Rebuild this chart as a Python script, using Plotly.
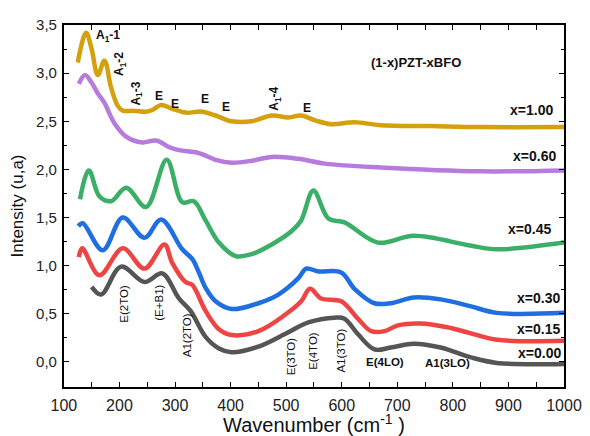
import plotly.graph_objects as go

# Raman spectra of (1-x)PZT-xBFO
wn_100 = [125, 140, 150, 161, 173, 185, 197, 206, 225, 248, 260, 275, 295, 319, 349, 373, 402, 438, 474, 504, 527, 552, 581, 623, 670, 760, 850, 1000]
int_100 = [3.11, 3.42, 3.25, 2.98, 3.13, 2.85, 2.66, 2.61, 2.61, 2.60, 2.62, 2.67, 2.63, 2.59, 2.60, 2.56, 2.50, 2.50, 2.56, 2.54, 2.56, 2.51, 2.47, 2.49, 2.46, 2.45, 2.44, 2.44]

wn_060 = [127, 138, 150, 161, 173, 191, 212, 241, 266, 290, 307, 343, 373, 402, 438, 474, 522, 570, 670, 849, 1000]
int_060 = [2.89, 2.98, 2.90, 2.79, 2.69, 2.48, 2.34, 2.28, 2.30, 2.23, 2.20, 2.17, 2.10, 2.07, 2.09, 2.13, 2.11, 2.06, 2.02, 1.98, 1.99]

wn_045 = [129, 145, 164, 185, 212, 248, 285, 313, 334, 355, 379, 409, 438, 474, 510, 527, 549, 576, 605, 665, 730, 831, 879, 1000]
int_045 = [1.69, 1.99, 1.72, 1.67, 1.81, 1.61, 2.10, 1.66, 1.67, 1.47, 1.24, 1.10, 1.12, 1.22, 1.36, 1.47, 1.78, 1.49, 1.45, 1.24, 1.31, 1.21, 1.17, 1.24]

wn_030 = [126, 134, 170, 206, 245, 275, 313, 331, 343, 355, 373, 402, 450, 486, 522, 536, 558, 599, 623, 659, 688, 730, 778, 831, 879, 1000]
int_030 = [1.41, 1.44, 1.16, 1.50, 1.29, 1.48, 1.17, 1.07, 0.93, 0.77, 0.63, 0.55, 0.61, 0.70, 0.87, 0.97, 0.94, 0.93, 0.76, 0.61, 0.61, 0.67, 0.65, 0.58, 0.51, 0.51]

wn_015 = [127, 133, 164, 206, 245, 281, 295, 319, 331, 355, 379, 402, 450, 498, 527, 543, 563, 599, 629, 653, 677, 701, 742, 790, 831, 879, 1000]
int_015 = [1.09, 1.18, 0.90, 1.18, 0.97, 1.22, 1.03, 0.83, 0.80, 0.53, 0.34, 0.28, 0.32, 0.49, 0.63, 0.76, 0.66, 0.63, 0.45, 0.32, 0.32, 0.38, 0.40, 0.36, 0.30, 0.23, 0.22]

wn_000 = [150, 167, 203, 245, 277, 307, 328, 355, 379, 402, 450, 498, 540, 587, 605, 629, 659, 688, 730, 778, 831, 879, 1000]
int_000 = [0.78, 0.70, 0.99, 0.83, 0.92, 0.66, 0.53, 0.26, 0.14, 0.10, 0.16, 0.29, 0.41, 0.46, 0.45, 0.29, 0.13, 0.15, 0.19, 0.15, 0.05, -0.01, -0.02]

series = [
    ("x=0.00", wn_000, int_000, "#555555"),
    ("x=0.15", wn_015, int_015, "#EE4444"),
    ("x=0.30", wn_030, int_030, "#1F6FE0"),
    ("x=0.45", wn_045, int_045, "#3BAF68"),
    ("x=0.60", wn_060, int_060, "#B67BDD"),
    ("x=1.00", wn_100, int_100, "#D4A00C"),
]

# curve labels at right edge: (text, x, y)
curve_labels = [
    ("x=1.00", 983, 2.62),
    ("x=0.60", 990, 2.14),
    ("x=0.45", 981, 1.38),
    ("x=0.30", 996, 0.66),
    ("x=0.15", 996, 0.34),
    ("x=0.00", 999, 0.09),
]

# mode labels on the x=1.00 curve: (text, x, y, angle)
top_modes = [
    ("A<sub>1</sub>-1", 179, 3.39, 0),
    ("A<sub>1</sub>-2", 202, 3.09, -90),
    ("A<sub>1</sub>-3", 232, 2.79, -90),
    ("E", 272, 2.76, 0),
    ("E", 300, 2.68, 0),
    ("E", 354, 2.73, 0),
    ("E", 391, 2.65, 0),
    ("A<sub>1</sub>-4", 481, 2.73, -90),
    ("E", 538, 2.64, 0),
]

# mode labels on the x=0.00 curve: (text, x, y, angle, bold)
bottom_modes = [
    ("E(2TO)", 209, 0.61, -90, False),
    ("(E+B1)", 272, 0.62, -90, False),
    ("A1(2TO)", 322, 0.28, -90, False),
    ("E(3TO)", 509, 0.06, -90, False),
    ("E(4TO)", 549, 0.12, -90, False),
    ("A1(3TO)", 599, 0.12, -90, False),
    ("E(4LO)", 677, 0.0, 0, True),
    ("A1(3LO)", 790, -0.01, 0, True),
]

x_ticks = list(range(100, 1001, 100))
y_ticks = [0, 0.5, 1.0, 1.5, 2.0, 2.5, 3.0, 3.5]
y_ticktext = ["0,0", "0,5", "1,0", "1,5", "2,0", "2,5", "3,0", "3,5"]

FONT = "Liberation Sans, Arial, sans-serif"

fig = go.Figure()
for name, x, y, color in series:
    fig.add_trace(go.Scatter(x=x, y=y, mode="lines", name=name,
                             line=dict(color=color, width=4.5, shape="spline", smoothing=1.0)))

ann = []
for text, x, y in curve_labels:
    ann.append(dict(x=x, y=y, text=f"<b>{text}</b>", showarrow=False, xanchor="right",
                    font=dict(size=14, color="#111")))
for text, x, y, a in top_modes:
    ann.append(dict(x=x, y=y, text=f"<b>{text}</b>", showarrow=False, textangle=a,
                    font=dict(size=12, color="#111")))
for text, x, y, a, b in bottom_modes:
    ann.append(dict(x=x, y=y, text=f"<b>{text}</b>" if b else text, showarrow=False,
                    textangle=a, font=dict(size=11.5, color="#111")))
ann.append(dict(x=733, y=3.11, text="<b>(1-x)PZT-xBFO</b>", showarrow=False,
                font=dict(size=13, color="#111")))

frame = dict(showline=True, linecolor="black", linewidth=1.5, mirror="allticks",
             ticks="inside", ticklen=5, tickwidth=1.2, tickcolor="black",
             showgrid=False, zeroline=False)

# page body has an 8px margin, so the figure is shrunk by that amount.
# plot area runs 40..560 px of the figure; x domain starts 16 px in so the
# label-only y axis can sit just left of the frame.
fig.update_layout(
    width=582, height=428,
    margin=dict(l=40, r=22, t=8, b=48),
    paper_bgcolor="white", plot_bgcolor="white",
    font=dict(family=FONT, color="#111"),
    showlegend=False,
    annotations=ann,
    xaxis=dict(range=[100, 1000], domain=[16 / 520, 1], tickvals=x_ticks, ticklabelstandoff=3,
               tickfont=dict(size=16, color="#222"),
               title=dict(text="Wavenumber (cm<sup>-1</sup> )", font=dict(size=20), standoff=0),
               minor=dict(ticks="inside", ticklen=3, tickwidth=1, tickcolor="black", dtick=50),
               **frame),
    yaxis=dict(range=[-0.26, 3.5], tickvals=y_ticks, showticklabels=False,
               title=dict(text="Intensity (u,a)", font=dict(size=17), standoff=36),
               minor=dict(ticks="inside", ticklen=3, tickwidth=1, tickcolor="black", dtick=0.25),
               **frame),
    yaxis2=dict(overlaying="y", matches="y", anchor="free", position=9 / 520, side="left",
                range=[-0.26, 3.5], tickvals=y_ticks, ticktext=y_ticktext,
                showline=False, ticks="", showgrid=False, zeroline=False,
                tickfont=dict(size=15, color="#222")),
)
# invisible trace to activate the label axis
fig.add_trace(go.Scatter(x=[None], y=[None], yaxis="y2", showlegend=False, hoverinfo="skip"))

fig.write_html("out.html")
